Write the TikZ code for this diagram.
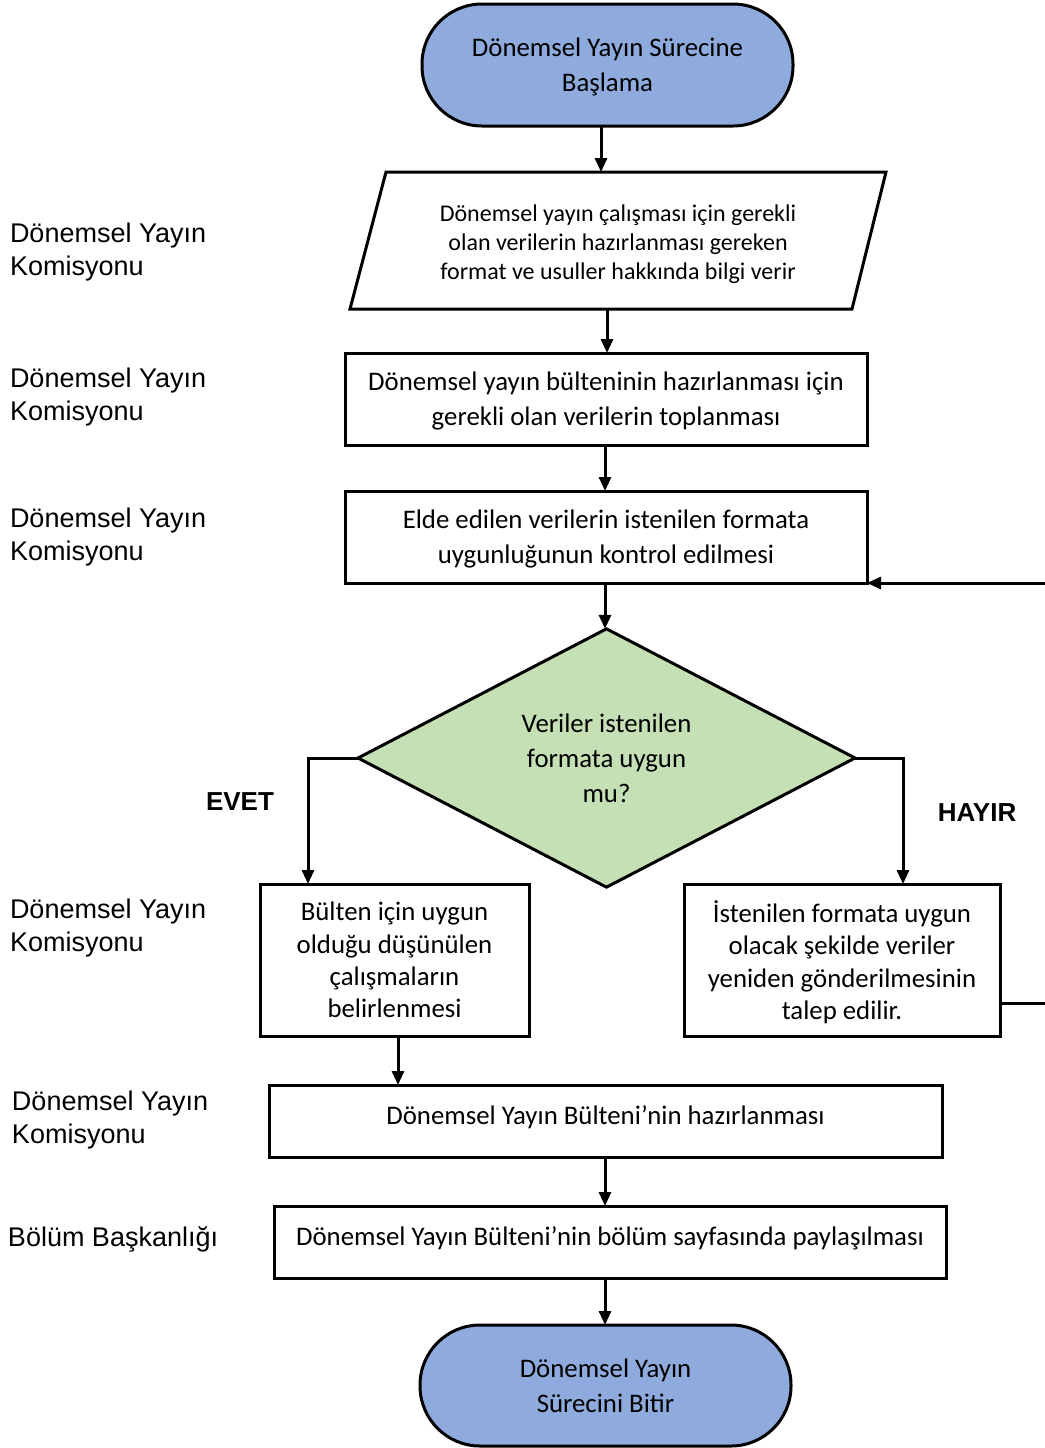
\documentclass[tikz,border=0pt]{standalone}
\usepackage{fontspec}
\setmainfont{Carlito}
\newfontfamily\arial{Liberation Sans}
\usetikzlibrary{arrows.meta,shapes.geometric}
\definecolor{termblue}{HTML}{8FAADC}
\definecolor{decgreen}{HTML}{C5E0B4}
\begin{document}
\begin{tikzpicture}[x=1pt,y=-1pt,
 every node/.style={inner sep=0pt, outer sep=0pt},
 box/.style={draw, line width=3pt, fill=white, align=center, text depth=-3pt, font=\fontsize{26.8}{35}\selectfont},
 term/.style={box, fill=termblue, rounded corners=60pt},
 lab/.style={anchor=west, align=left, font=\arial\fontsize{27}{33}\selectfont},
 yn/.style={font=\arial\bfseries\fontsize{26}{30}\selectfont},
 arr/.style={line width=3pt, -{Triangle[length=14pt,width=12pt]}},
 ln/.style={line width=3pt}]
\useasboundingbox (0,0) rectangle (1044,1448);

% start
\node[term, minimum width=371pt, minimum height=122pt] (start) at (607.5,65) {Dönemsel Yayın Sürecine\\Başlama};

% parallelogram
\draw[ln, line join=miter] (386,172) -- (886,172) -- (852,309) -- (350,309) -- cycle;
\coordinate (pin) at (601,172);
\coordinate (pout) at (607,309);
\node[align=center, font=\fontsize{24}{29}\selectfont] (para) at (618,244) {Dönemsel yayın çalışması için gerekli\\olan verilerin hazırlanması gereken\\format ve usuller hakkında bilgi verir};

% boxes
\node[box, minimum width=522pt, minimum height=92pt] (b2) at (606,399) {Dönemsel yayın bülteninin hazırlanması için\\gerekli olan verilerin toplanması};
\node[box, minimum width=522pt, minimum height=92pt] (b3) at (606,537) {Elde edilen verilerin istenilen formata\\uygunluğunun kontrol edilmesi};

% decision
\node[diamond, draw, line width=3pt, fill=decgreen, minimum width=497pt, minimum height=247pt, align=center, text depth=-3pt, font=\fontsize{26.8}{35}\selectfont] (dec) at (606.5,758) {Veriler istenilen\\formata uygun\\mu?};

\node[box, minimum width=269pt, minimum height=152pt, text depth=-6pt, font=\fontsize{26.8}{32.4}\selectfont] (b4) at (394.5,960) {Bülten için uygun\\olduğu düşünülen\\çalışmaların\\belirlenmesi};
\node[box, minimum width=316pt, minimum height=152pt, text depth=-6pt, font=\fontsize{26.8}{32.4}\selectfont] (b5) at (842,960) {İstenilen formata uygun\\olacak şekilde veriler\\yeniden gönderilmesinin\\talep edilir.};

\node[box, minimum width=673pt, minimum height=72pt, text depth=12pt] (b6) at (605.5,1121) {Dönemsel Yayın Bülteni’nin hazırlanması};
\node[box, minimum width=672pt, minimum height=72pt, text depth=12pt] (b7) at (610,1242) {Dönemsel Yayın Bülteni’nin bölüm sayfasında paylaşılması};

\node[term, minimum width=371pt, minimum height=121pt] (end) at (605.5,1385.5) {Dönemsel Yayın\\Sürecini Bitir};

% connectors
\draw[arr] (start.south -| pin) -- (pin);
\draw[arr] (pout) -- (pout |- b2.north);
\draw[arr] (b2.south -| 605,0) -- (b3.north -| 605,0);
\draw[arr] (b3.south -| 605,0) -- (dec.north -| 605,0);
\draw[arr] (dec.west) -- (308,758) -- (b4.north -| 308,0);
\draw[arr] (dec.east) -- (903,758) -- (b5.north -| 903,0);
\draw[arr] (b4.south -| 398,0) -- (b6.north -| 398,0);
\draw[arr] (b6.south -| 605,0) -- (b7.north -| 605,0);
\draw[arr] (b7.south -| 605,0) -- (end.north -| 605,0);
\coordinate (fb) at (1052,1003);
\draw[arr] (b5.east |- fb) -- (fb) -- (1052,583) -- (b3.south east);

% yes/no
\node[yn] (evet) at (240,802) {EVET};
\node[yn] (hayir) at (977,813) {HAYIR};

% lane labels
\node[lab] (l1) at (10,252.5) {Dönemsel Yayın\\Komisyonu};
\node[lab] (l2) at (10,397.5) {Dönemsel Yayın\\Komisyonu};
\node[lab] (l3) at (10,537.5) {Dönemsel Yayın\\Komisyonu};
\node[lab] (l4) at (10,928.5) {Dönemsel Yayın\\Komisyonu};
\node[lab] (l5) at (12,1120.5) {Dönemsel Yayın\\Komisyonu};
\node[lab] (l6) at (8,1239) {Bölüm Başkanlığı};
\end{tikzpicture}
\end{document}
